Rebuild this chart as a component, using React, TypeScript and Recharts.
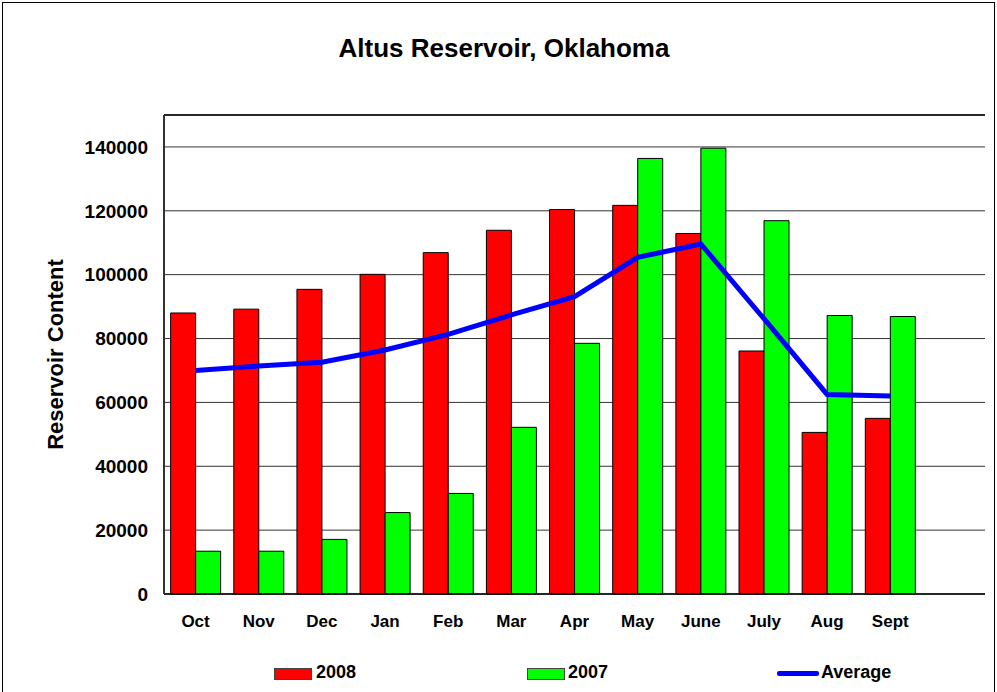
import {
  ComposedChart,
  Bar,
  Line,
  XAxis,
  YAxis,
  CartesianGrid,
  ReferenceLine,
} from "recharts"

// months of the water year, last slot is empty on the axis
const months = ["Oct", "Nov", "Dec", "Jan", "Feb", "Mar", "Apr", "May", "June", "July", "Aug", "Sept", ""]
const content2008 = [88000, 89200, 95400, 100100, 106900, 113900, 120400, 121700, 112900, 76100, 50600, 55000, null]
const content2007 = [13400, 13400, 17100, 25500, 31500, 52200, 78500, 136400, 139600, 116900, 87200, 86900, null]
const average = [70000, 71400, 72600, 76400, 81300, 87400, 93100, 105400, 109600, 86200, 62500, 62000, null]
const yTicks = [0, 20000, 40000, 60000, 80000, 100000, 120000, 140000]

const font = "'Liberation Sans', Arial, sans-serif"

export default function App() {
  const data = months.map((m, i) => ({
    month: m,
    y2008: content2008[i],
    y2007: content2007[i],
    avg: average[i],
  }))

  return (
    <div style={{ position: "absolute", left: 0, top: 0, width: 997, height: 692, background: "#fff", fontFamily: font, overflow: "hidden" }}>
      {/* outer frame */}
      <div style={{ position: "absolute", left: 2, top: 2, width: 991, height: 700, border: "1px solid #000" }} />

      <div style={{ position: "absolute", left: 0, top: 33, width: 1008, textAlign: "center", fontWeight: "bold", fontSize: 26, color: "#000" }}>
        Altus Reservoir, Oklahoma
      </div>

      <ComposedChart
        width={997}
        height={692}
        data={data}
        margin={{ top: 115, right: 12, left: 84, bottom: 58 }}
        barCategoryGap="10.5%"
        barGap={0}
        style={{ position: "absolute", left: 0, top: 0 }}
      >
        <CartesianGrid horizontal vertical={false} stroke="#333" strokeWidth={1} />
        <XAxis
          dataKey="month"
          height={40}
          tickLine={false}
          tickSize={0}
          tickMargin={21}
          axisLine={{ stroke: "#000", strokeWidth: 1.5 }}
          tick={{ fill: "#000", fontSize: 17, fontWeight: "bold", fontFamily: font }}
          interval={0}
        />
        <YAxis
          width={80}
          domain={[0, 150000]}
          ticks={yTicks}
          tickLine={false}
          tickSize={0}
          tickMargin={16}
          axisLine={{ stroke: "#333", strokeWidth: 2 }}
          tick={{ fill: "#000", fontSize: 19, fontWeight: "bold", fontFamily: font }}
          label={{
            value: "Reservoir Content",
            angle: -90,
            position: "insideLeft",
            offset: -29,
            style: { fill: "#000", fontSize: 22, fontWeight: "bold", fontFamily: font, textAnchor: "middle" },
          }}
        />
        <YAxis
          yAxisId="right"
          orientation="right"
          width={0}
          domain={[0, 150000]}
          tick={false}
          tickLine={false}
          axisLine={{ stroke: "#777", strokeWidth: 1.5 }}
        />
        <ReferenceLine y={150000} stroke="#000" strokeWidth={1.5} />
        <Bar dataKey="y2008" fill="#ff0000" stroke="#000" strokeWidth={1} isAnimationActive={false} />
        <Bar dataKey="y2007" fill="#00ff00" stroke="#000" strokeWidth={1} isAnimationActive={false} />
        <Line
          type="linear"
          dataKey="avg"
          stroke="#0000ff"
          strokeWidth={5}
          dot={false}
          isAnimationActive={false}
        />
      </ComposedChart>

      {/* legend */}
      <div style={{ position: "absolute", left: 274, top: 668, width: 38, height: 12, background: "#ff0000", border: "1px solid #444", boxSizing: "border-box" }} />
      <div style={{ position: "absolute", left: 316, top: 662, fontSize: 18, fontWeight: "bold" }}>2008</div>
      <div style={{ position: "absolute", left: 527, top: 668, width: 38, height: 12, background: "#00ff00", border: "1px solid #444", boxSizing: "border-box" }} />
      <div style={{ position: "absolute", left: 568, top: 662, fontSize: 18, fontWeight: "bold" }}>2007</div>
      <div style={{ position: "absolute", left: 777, top: 671, width: 42, height: 5, background: "#0000ff", borderRadius: 2 }} />
      <div style={{ position: "absolute", left: 821, top: 662, fontSize: 18, fontWeight: "bold" }}>Average</div>
    </div>
  )
}
